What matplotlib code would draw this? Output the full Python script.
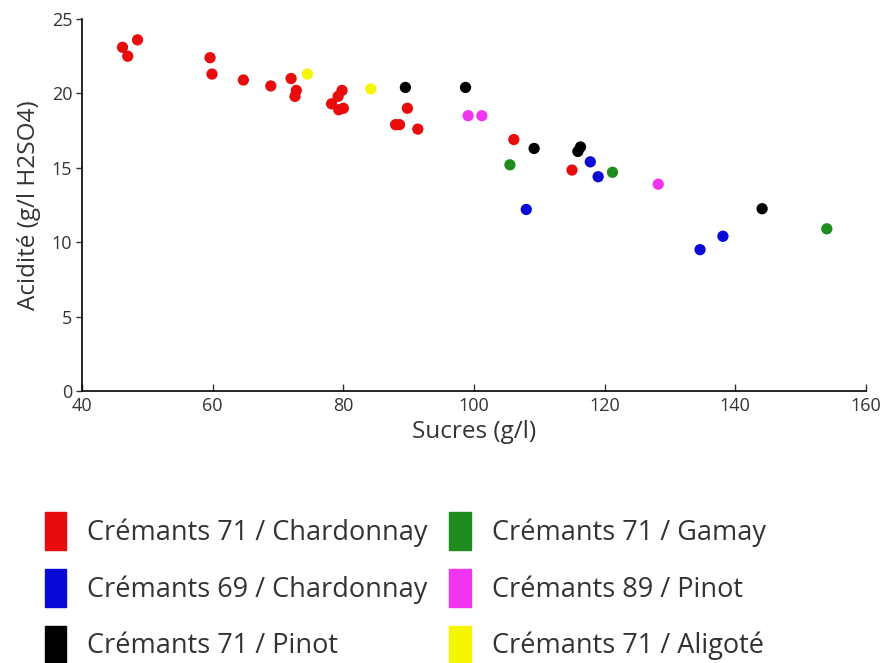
import matplotlib.pyplot as plt
from matplotlib.patches import Patch

plt.rcParams['font.family'] = ['Open Sans', 'DejaVu Sans']

# series: sucres (x) and acidite (y) per group
chard71_x = [46.2, 47.0, 48.5, 59.6, 59.9, 64.7, 68.9, 72.0, 72.8, 72.6,
             79.8, 79.2, 78.2, 79.3, 80.0, 89.8, 88.0, 88.6, 91.4, 106.1, 115.0]
chard71_y = [23.1, 22.5, 23.6, 22.4, 21.3, 20.9, 20.5, 21.0, 20.2, 19.8,
             20.2, 19.8, 19.3, 18.9, 19.0, 19.0, 17.9, 17.9, 17.6, 16.9, 14.85]
chard69_x = [117.8, 119.0, 108.0, 138.1, 134.6]
chard69_y = [15.4, 14.4, 12.2, 10.4, 9.5]
pinot71_x = [89.5, 98.7, 109.2, 116.3, 115.9, 144.1]
pinot71_y = [20.4, 20.4, 16.3, 16.4, 16.1, 12.25]
gamay71_x = [105.5, 121.2, 154.0]
gamay71_y = [15.2, 14.7, 10.9]
pinot89_x = [99.1, 101.2, 128.2]
pinot89_y = [18.5, 18.5, 13.9]
aligote71_x = [74.5, 84.2]
aligote71_y = [21.3, 20.3]

labels = ['Crémants 71 / Chardonnay', 'Crémants 69 / Chardonnay', 'Crémants 71 / Pinot',
          'Crémants 71 / Gamay', 'Crémants 89 / Pinot', 'Crémants 71 / Aligoté']
colors = ['#e80c0c', '#0a0ad8', '#000000', '#1e8c1e', '#f035f0', '#f6f600']
xs = [chard71_x, chard69_x, pinot71_x, gamay71_x, pinot89_x, aligote71_x]
ys = [chard71_y, chard69_y, pinot71_y, gamay71_y, pinot89_y, aligote71_y]

fig = plt.figure(figsize=(8.85, 6.63), dpi=100)
ax = fig.add_axes([82 / 885, 1 - 391 / 663, 784 / 885, 372 / 663])

for x, y, c in zip(xs, ys, colors):
    ax.scatter(x, y, s=66, color=c, edgecolors='none', zorder=3)

ax.set_xlim(40, 160)
ax.set_ylim(0, 25)
ax.set_xticks(range(40, 161, 20))
ax.set_yticks(range(0, 26, 5))
for side in ['top', 'right']:
    ax.spines[side].set_visible(False)
for side in ['left', 'bottom']:
    ax.spines[side].set_linewidth(1.2)
ax.tick_params(axis='x', direction='in', length=5, width=1, labelsize=13, pad=4, colors='#333333')
ax.tick_params(axis='y', direction='out', length=4, width=1, labelsize=13, pad=3, colors='#333333')
ax.set_xlabel('Sucres (g/l)', fontsize=17.5, color='#333333', labelpad=4)
ax.set_ylabel('Acidité (g/l H2SO4)', fontsize=17.5, color='#333333', labelpad=8)

handles = [Patch(facecolor=c, edgecolor=c) for c in colors]
fig.legend(handles, labels, ncol=2, loc='upper left',
           bbox_to_anchor=(45 / 885, 1 - 512 / 663), frameon=False,
           fontsize=19.5, handlelength=0.78, handleheight=1.79, handletextpad=0.78,
           columnspacing=0.8, labelspacing=0.69, borderpad=0, borderaxespad=0,
           labelcolor='#333333')

fig.savefig('out.png', dpi=100)
